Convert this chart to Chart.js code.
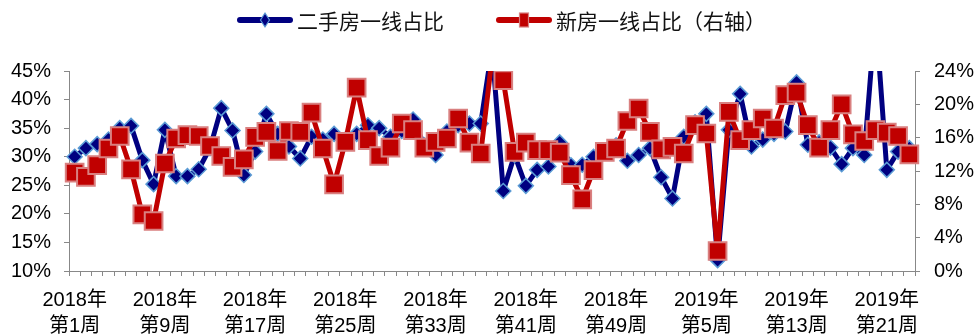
<!DOCTYPE html>
<html>
<head>
<meta charset="utf-8">
<script src="https://cdn.jsdelivr.net/npm/chart.js@4.4.0/dist/chart.umd.min.js"></script>
<style>
  html, body { margin: 0; padding: 0; background: #fff; }
  #wrap { position: relative; width: 979px; height: 335px; }
  #legend { position: absolute; left: 237px; top: 8px; height: 24px; display: flex; align-items: center;
            font-family: 'Noto Sans CJK SC', sans-serif; font-size: 21px; color: #111; white-space: nowrap; }
  .item { display: flex; align-items: center; margin-right: 52px; }
  .item svg { margin-right: 4px; }
</style>
</head>
<body>
<div id="wrap">
  <canvas id="ratioChart" width="979" height="335"></canvas>
  <div id="legend"></div>
</div>
<script>
// weekly categories: 2018 wk1 .. 2019 wk23
const weekLabels = [];
for (let w = 1; w <= 52; w++) weekLabels.push(['2018年', '第' + w + '周']);
for (let w = 1; w <= 23; w++) weekLabels.push(['2019年', '第' + w + '周']);

// 二手房一线占比 (left axis, %)
const resaleShare = [
  30.0, 31.5, 32.2, 33.0, 35.0, 35.4, 29.4, 25.2, 34.7, 26.6,
  26.6, 27.8, 31.5, 38.5, 34.6, 26.8, 30.9, 37.5, 34.0, 31.8,
  29.7, 33.5, 33.0, 34.0, 33.0, 34.0, 35.5, 35.0, 33.5, 34.5,
  36.5, 32.0, 30.3, 34.4, 35.5, 35.8, 35.8, 49.0, 24.0, 30.3,
  24.9, 27.7, 28.3, 32.5, 28.5, 28.6, 30.0, 31.0, 32.0, 29.3,
  30.3, 31.5, 26.4, 22.7, 33.5, 36.0, 37.5, 11.9, 34.7, 41.0,
  31.8, 33.0, 34.0, 34.4, 43.0, 32.1, 32.5, 31.6, 28.7, 31.5,
  30.3, 55.0, 27.7, 30.9, 31.5
];

// 新房一线占比 (right axis, %)
const newShare = [
  11.8, 11.3, 12.7, 14.7, 16.2, 12.2, 6.8, 6.0, 12.9, 15.9,
  16.3, 16.2, 15.0, 13.8, 12.5, 13.4, 16.1, 16.7, 14.4, 16.8,
  16.7, 19.0, 14.7, 10.4, 15.5, 22.0, 15.7, 13.8, 14.8, 17.7,
  16.9, 14.8, 15.5, 15.9, 18.3, 15.4, 14.1, 25.5, 22.9, 14.3,
  15.4, 14.5, 14.5, 14.2, 11.5, 8.6, 12.1, 14.3, 14.7, 18.0,
  19.5, 16.7, 14.6, 14.9, 14.1, 17.5, 16.5, 2.4, 19.1, 15.7,
  16.9, 18.3, 17.1, 21.1, 21.4, 17.5, 14.8, 16.9, 20.0, 16.4,
  15.6, 16.9, 16.6, 16.2, 14.0
];

const leftTicks = { min: 10, max: 45, step: 5 };
const rightTicks = { min: 0, max: 24, step: 4 };

const axisGray = '#888888';
const tickFont = { family: "'Liberation Sans', Arial, 'Noto Sans CJK SC', sans-serif", size: 20 };
const plotClip = { left: 12, right: 12, top: 0, bottom: 12 };

const chart = new Chart(document.getElementById('ratioChart'), {
  type: 'line',
  data: {
    labels: weekLabels,
    datasets: [
      {
        label: '二手房一线占比',
        data: resaleShare,
        yAxisID: 'y',
        order: 1,
        borderColor: '#000080',
        borderWidth: 5,
        borderJoinStyle: 'round',
        tension: 0,
        pointStyle: 'rectRot',
        pointRadius: 7.5,
        pointHoverRadius: 7.5,
        pointBackgroundColor: '#000080',
        pointBorderColor: '#5b9bd5',
        pointBorderWidth: 1.5,
        clip: plotClip
      },
      {
        label: '新房一线占比（右轴）',
        data: newShare,
        yAxisID: 'y1',
        order: 0,
        borderColor: '#c00000',
        borderWidth: 5,
        borderJoinStyle: 'round',
        tension: 0,
        pointStyle: 'rect',
        pointRadius: 12.5,
        pointHoverRadius: 12.5,
        pointBackgroundColor: '#c00000',
        pointBorderColor: '#d98080',
        pointBorderWidth: 2,
        clip: plotClip
      }
    ]
  },
  options: {
    responsive: false,
    animation: false,
    layout: { padding: { top: 71, left: 0, right: 0, bottom: 0 } },
    plugins: {
      legend: { display: false },
      tooltip: { enabled: false }
    },
    scales: {
      x: {
        offset: true,
        grid: { drawOnChartArea: false, drawTicks: true, tickLength: 5, color: axisGray, offset: true },
        border: { color: axisGray, width: 1 },
        ticks: {
          autoSkip: false,
          maxRotation: 0,
          minRotation: 0,
          padding: 11,
          color: '#000',
          font: { ...tickFont, lineHeight: 1.3 },
          callback: function (value, index) {
            return index % 8 === 0 ? this.getLabelForValue(value) : '';
          }
        },
        afterFit: s => { s.height = 64; }
      },
      y: {
        position: 'left',
        min: leftTicks.min,
        max: leftTicks.max,
        grid: { drawOnChartArea: false, drawTicks: true, tickLength: 5, color: axisGray },
        border: { color: axisGray, width: 1 },
        ticks: { stepSize: leftTicks.step, padding: 13, color: '#000', font: tickFont, callback: v => v + '%' },
        afterFit: s => { s.width = 69; }
      },
      y1: {
        position: 'right',
        min: rightTicks.min,
        max: rightTicks.max,
        grid: { drawOnChartArea: false, drawTicks: true, tickLength: 5, color: axisGray },
        border: { color: axisGray, width: 1 },
        ticks: { stepSize: rightTicks.step, padding: 14, color: '#000', font: tickFont, callback: v => v + '%' },
        afterFit: s => { s.width = 64; }
      }
    }
  }
});

// legend: thick line with the series marker in the middle
function legendIcon(ds) {
  const marker = ds.pointStyle === 'rectRot'
    ? '<polygon points="28,3 32.5,10 28,17 23.5,10" fill="' + ds.pointBackgroundColor + '" stroke="' + ds.pointBorderColor + '" stroke-width="1.2"/>'
    : '<rect x="23.5" y="3" width="9" height="14" fill="' + ds.pointBackgroundColor + '" stroke="' + ds.pointBorderColor + '" stroke-width="1.2"/>';
  return '<svg width="56" height="20" viewBox="0 0 56 20">' +
    '<line x1="3" y1="10" x2="53" y2="10" stroke="' + ds.borderColor + '" stroke-width="6" stroke-linecap="round"/>' +
    marker + '</svg>';
}
document.getElementById('legend').innerHTML = chart.data.datasets
  .map(ds => '<span class="item">' + legendIcon(ds) + '<span>' + ds.label + '</span></span>')
  .join('');
</script>
</body>
</html>
